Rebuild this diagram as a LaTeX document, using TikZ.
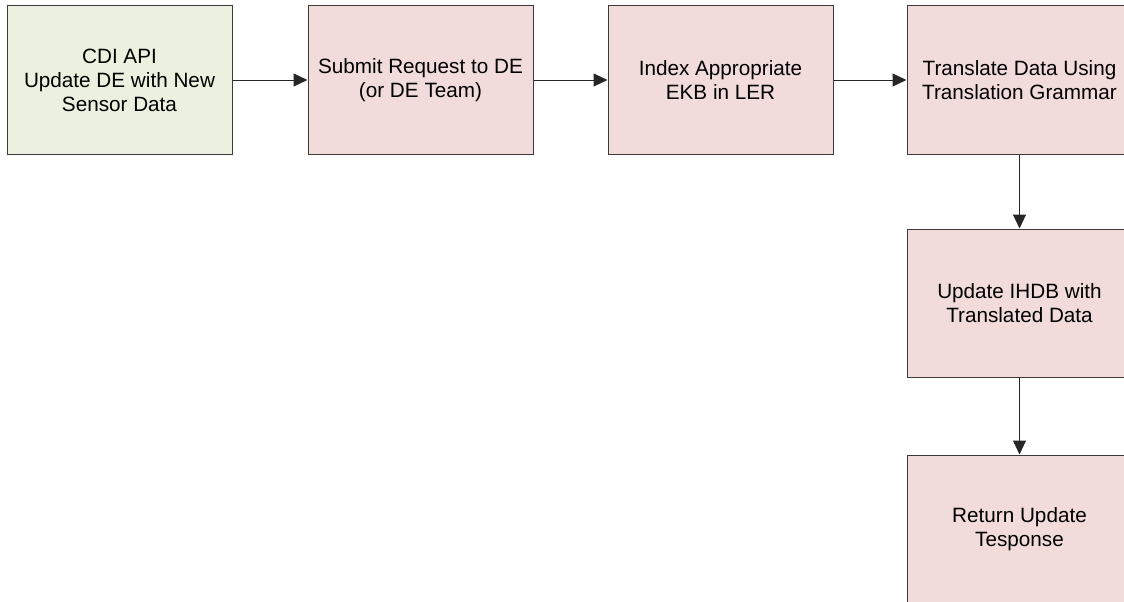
\documentclass[tikz,border=0pt]{standalone}
\usepackage{fontspec}
\setmainfont{Liberation Sans}
\usetikzlibrary{arrows.meta}
\definecolor{stepgreen}{HTML}{EBF1DE}
\definecolor{steppink}{HTML}{F2DCDB}
\definecolor{edgegray}{HTML}{3A3A3A}
\tikzset{
  stepbox/.style={draw=edgegray, line width=1pt, minimum width=225pt, minimum height=148pt,
    inner sep=0pt, align=center, font=\fontsize{20.7}{24}\selectfont},
  greenbox/.style={stepbox, fill=stepgreen},
  pinkbox/.style={stepbox, fill=steppink},
  flow/.style={draw=black!85, line width=1pt, -{Triangle[length=14pt,width=13pt]}}
}
\begin{document}
\begin{tikzpicture}[x=1pt,y=-1pt]
\useasboundingbox (0,0) rectangle (1124,602);
\clip (0,0) rectangle (1124,602);
\node[greenbox] (b1) at (119.5,80) {CDI API\\Update DE with New\\Sensor Data};
\node[pinkbox] (b2) at (420.5,80) {Submit Request to DE\\(or DE Team)};
\node[pinkbox] (b3) at (720.5,80) {Index Appropriate\\EKB in LER};
\node[pinkbox] (b4) at (1019.5,80) {Translate Data Using\\Translation Grammar};
\node[pinkbox] (b5) at (1019.5,303) {Update IHDB with\\Translated Data};
\node[pinkbox] (b6) at (1019.5,529) {Return Update\\Tesponse};
\draw[flow] (b1.east) -- (b2.west);
\draw[flow] (b2.east) -- (b3.west);
\draw[flow] (b3.east) -- (b4.west);
\draw[flow] (b4.south) -- (b5.north);
\draw[flow] (b5.south) -- (b6.north);
\end{tikzpicture}
\end{document}
